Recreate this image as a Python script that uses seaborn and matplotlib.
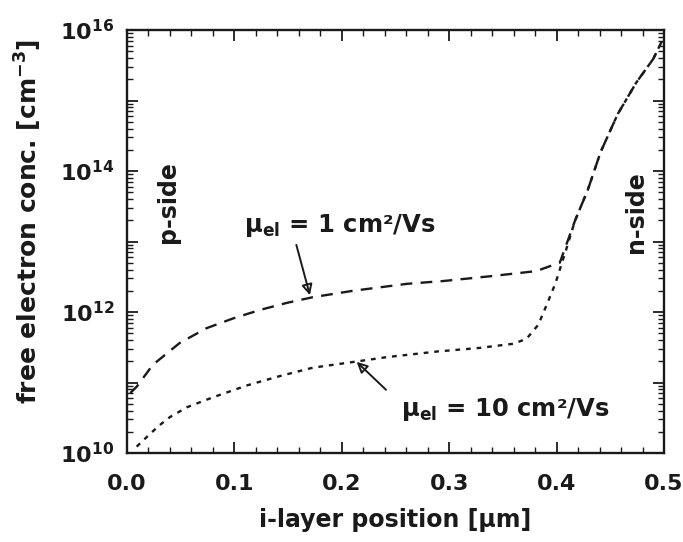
import numpy as np
import pandas as pd
import matplotlib
matplotlib.use("Agg")
import matplotlib.pyplot as plt
import seaborn as sns
from matplotlib.ticker import FixedLocator, LogLocator, NullFormatter, FuncFormatter, MultipleLocator

# data: log10 of concentration vs position
x_mu1 = [0.003, 0.009, 0.024, 0.049, 0.074, 0.099, 0.124, 0.149, 0.173, 0.210, 0.261, 0.295,
         0.340, 0.381, 0.403, 0.417, 0.429, 0.441, 0.457, 0.474, 0.490, 0.498]
logy_mu1 = [10.85, 10.94, 11.25, 11.56, 11.77, 11.91, 12.03, 12.13, 12.21, 12.30, 12.40, 12.44,
            12.51, 12.58, 12.70, 13.29, 13.73, 14.27, 14.81, 15.25, 15.59, 15.84]

x_mu10 = [0.009, 0.020, 0.030, 0.040, 0.056, 0.080, 0.112, 0.142, 0.173, 0.210, 0.242, 0.289,
          0.328, 0.360, 0.372, 0.383, 0.391, 0.399, 0.405, 0.409, 0.417, 0.429, 0.441, 0.457,
          0.474, 0.490, 0.498]
logy_mu10 = [10.09, 10.25, 10.39, 10.51, 10.65, 10.79, 10.96, 11.09, 11.21, 11.29, 11.36, 11.44,
             11.49, 11.55, 11.62, 11.82, 12.11, 12.41, 12.70, 12.89, 13.29, 13.73, 14.27, 14.81,
             15.25, 15.59, 15.84]

series_labels = ["mu1", "mu10"]

df = pd.concat([
    pd.DataFrame({"x": x_mu1, "y": 10.0 ** np.array(logy_mu1), "s": series_labels[0]}),
    pd.DataFrame({"x": x_mu10, "y": 10.0 ** np.array(logy_mu10), "s": series_labels[1]}),
])

sns.set_style("ticks")
plt.rcParams["font.family"] = ["DejaVu Sans"]
plt.rcParams["font.weight"] = "bold"
plt.rcParams["mathtext.fontset"] = "dejavusans"
plt.rcParams["mathtext.default"] = "bf"

INK = "#1a1a1a"

fig = plt.figure(figsize=(6.83, 5.42), dpi=100)
ax = fig.add_axes([127 / 683, (542 - 453) / 542, 537 / 683, 423 / 542])

sns.lineplot(data=df, x="x", y="y", hue="s", style="s",
             palette={"mu1": INK, "mu10": INK},
             dashes={"mu1": (5, 3.5), "mu10": (2, 2.5)},
             linewidth=1.7, legend=False, ax=ax, sort=False)

ax.set_yscale("log")
ax.set_xlim(0.0, 0.5)
ax.set_ylim(1e10, 1e16)

ax.xaxis.set_major_locator(MultipleLocator(0.1))
ax.xaxis.set_minor_locator(MultipleLocator(0.02))
ax.xaxis.set_major_formatter(FuncFormatter(lambda v, p: f"{v:.1f}"))

ax.yaxis.set_major_locator(FixedLocator([10.0 ** k for k in range(10, 17)]))
ax.yaxis.set_minor_locator(LogLocator(base=10, subs=np.arange(2, 10), numticks=20))
ax.yaxis.set_minor_formatter(NullFormatter())


def yfmt(v, p):
    e = int(round(np.log10(v)))
    return f"10$^{{{e}}}$" if e % 2 == 0 else ""


ax.yaxis.set_major_formatter(FuncFormatter(yfmt))

ax.tick_params(which="both", direction="in", top=True, right=True, colors=INK)
ax.tick_params(which="major", length=8, width=1.3, labelsize=16)
ax.tick_params(axis="x", which="major", pad=15)
ax.tick_params(axis="y", which="major", pad=9)
ax.tick_params(which="minor", length=4, width=1.0)
for sp in ax.spines.values():
    sp.set_linewidth(1.7)
    sp.set_color(INK)

ax.set_xlabel("i-layer position [µm]", fontsize=17, color=INK, labelpad=10, fontweight="bold")
ax.set_ylabel("free electron conc. [cm$^{-3}$]", fontsize=18, color=INK, fontweight="bold")
ax.yaxis.set_label_coords(-0.155, 0.548)

ax.text(0.076, 0.593, "p-side", transform=ax.transAxes, rotation=90, fontsize=17,
        ha="center", va="center", color=INK, fontweight="bold")
ax.text(0.948, 0.57, "n-side", transform=ax.transAxes, rotation=90, fontsize=17,
        ha="center", va="center", color=INK, fontweight="bold")

ax.text(0.109, 10 ** 13.23, "µ$_{el}$ = 1 cm²/Vs", fontsize=17.5, ha="left", va="center",
        color=INK, fontweight="bold")
ax.text(0.255, 10 ** 10.61, "µ$_{el}$ = 10 cm²/Vs", fontsize=17.5, ha="left", va="center",
        color=INK, fontweight="bold")

ax.annotate("", xy=(0.171, 10 ** 12.2), xytext=(0.157, 10 ** 12.99),
            arrowprops=dict(arrowstyle="-|>", color=INK, lw=1.4, mutation_scale=16,
                            fill=False))
ax.annotate("", xy=(0.212, 10 ** 11.32), xytext=(0.243, 10 ** 10.87),
            arrowprops=dict(arrowstyle="-|>", color=INK, lw=1.4, mutation_scale=16,
                            fill=False))

fig.savefig("out.png", dpi=100)
